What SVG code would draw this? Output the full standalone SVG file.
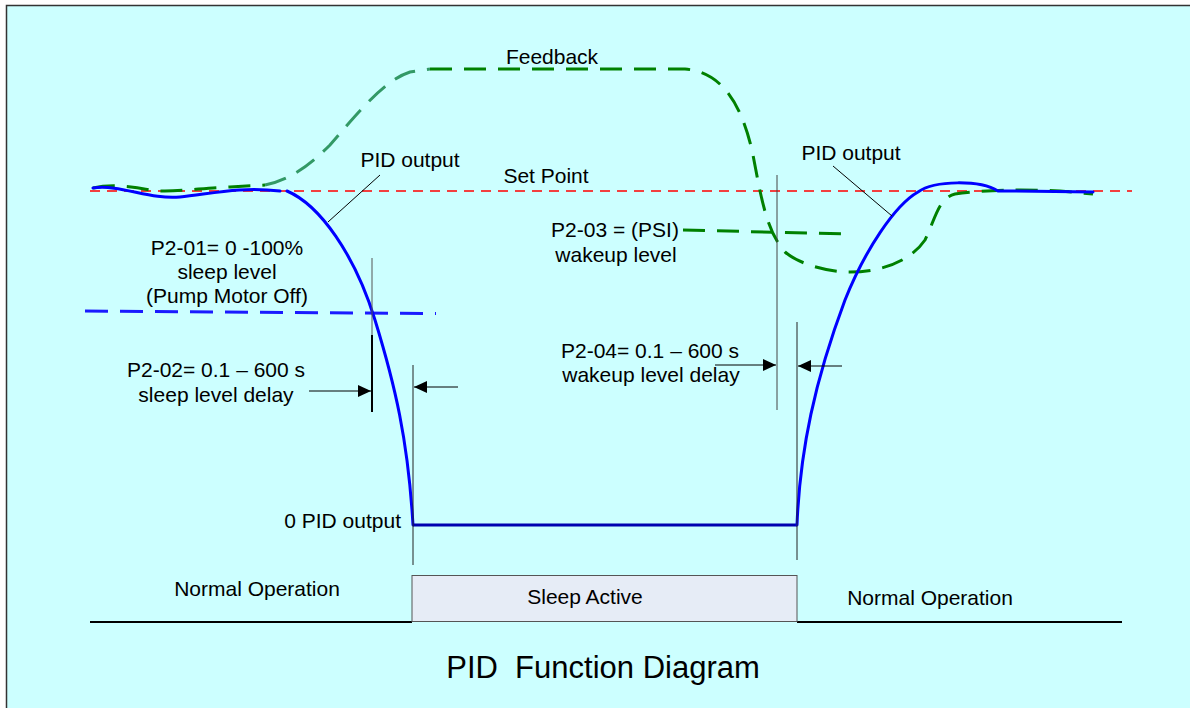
<svg xmlns="http://www.w3.org/2000/svg" width="1190" height="708" viewBox="0 0 1190 708">
<defs>
<style>
text{font-family:"Liberation Sans",Arial,sans-serif;font-size:21px;fill:#000}
.thin{stroke:#222;stroke-width:1;fill:none}
.arr{stroke:#000;stroke-width:1;fill:none}
.blue{stroke:#0000FF;stroke-width:3;fill:none;stroke-linecap:round}
.gdash{stroke:#008000;stroke-width:3;fill:none;stroke-dasharray:22 12}
.sgdash{stroke:#339966;stroke-width:3;fill:none;stroke-dasharray:22 12}
</style>
<marker id="ah" markerWidth="14" markerHeight="12" refX="13" refY="6" orient="auto" markerUnits="userSpaceOnUse">
<path d="M0,0 L13,6 L0,12 Z" fill="#000"/>
</marker>
</defs>
<rect x="0" y="0" width="1190" height="708" fill="#fff"/>
<rect x="6.5" y="5.5" width="1300" height="800" fill="#CCFFFF" stroke="#333" stroke-width="1.5"/>

<g id="setpoint">
<line x1="90" y1="191" x2="1132" y2="191" stroke="#FF0000" stroke-width="1.5" stroke-dasharray="10 7"/>
</g>

<g id="sleep-level-line">
<line x1="85" y1="311" x2="436" y2="313.5" stroke="#1a1aff" stroke-width="3" stroke-dasharray="23 12"/>
</g>

<g id="feedback">
<path class="gdash" d="M93,188 C110,184 130,186 150,190 C170,193 200,188 230,187 L265,185"/>
<path class="sgdash" d="M265,185 C290,180 310,165 330,145 C360,110 385,80 410,72 L430,69"/>
<path class="gdash" d="M430,69 L685,69 C720,72 740,100 752,150 C760,190 765,230 785,252 C800,265 830,272 850,272 C880,272 910,262 925,240 C935,220 938,198 955,194 C980,190 1020,189 1060,191 L1093,194"/>
<path class="gdash" d="M683,230 L850,234"/>
</g>

<g id="pid-output">
<path class="blue" d="M93,188 C120,184 150,200 180,197 C210,194 240,186 280,191"/>
<path class="blue" d="M287,191 C320,205 355,255 375,320 S408,440 413,525"/>
<line x1="413" y1="525" x2="797" y2="525" stroke="#0000B0" stroke-width="3"/>
<path class="blue" d="M797,525 C800,450 815,380 845,300 C865,250 895,205 918,192 C935,180 980,180 998,191 L1010,191 L1093,192"/>
</g>

<g id="connectors">
<line class="arr" x1="380" y1="175" x2="328" y2="222"/>
<line class="arr" x1="833" y1="166" x2="892" y2="216"/>
<line x1="372" y1="258" x2="372" y2="335" stroke="#555" stroke-width="1"/>
<line x1="372" y1="335" x2="372" y2="412" stroke="#000" stroke-width="2"/>
<line class="thin" x1="413" y1="365" x2="413" y2="565"/>
<line x1="777" y1="175" x2="777" y2="410" stroke="#444" stroke-width="1"/>
<line class="thin" x1="797" y1="322" x2="797" y2="560"/>
<line class="arr" x1="309" y1="391" x2="371" y2="391" marker-end="url(#ah)"/>
<line class="arr" x1="458" y1="387" x2="414" y2="387" marker-end="url(#ah)"/>
<line class="arr" x1="715" y1="365" x2="776" y2="365" marker-end="url(#ah)"/>
<line class="arr" x1="842" y1="366" x2="798" y2="366" marker-end="url(#ah)"/>
<line x1="90" y1="622" x2="412" y2="622" stroke="#000" stroke-width="2"/>
<line x1="797" y1="622" x2="1122" y2="622" stroke="#000" stroke-width="2"/>
</g>

<g id="sleep-active">
<rect x="412" y="575.5" width="385" height="46" fill="#E6ECF6" stroke="#555" stroke-width="1"/>
<text x="585" y="604" text-anchor="middle">Sleep Active</text>
</g>

<g id="labels">
<text x="552" y="64" text-anchor="middle">Feedback</text>
<text x="546" y="183" text-anchor="middle">Set Point</text>
<text x="410" y="167" text-anchor="middle">PID output</text>
<text x="851" y="160" text-anchor="middle">PID output</text>
<text x="227" y="255" text-anchor="middle">P2-01= 0 -100%</text>
<text x="227" y="279" text-anchor="middle">sleep level</text>
<text x="227" y="303" text-anchor="middle">(Pump Motor Off)</text>
<text x="216" y="377" text-anchor="middle">P2-02= 0.1 – 600 s</text>
<text x="216" y="402" text-anchor="middle">sleep level delay</text>
<text x="615" y="237" text-anchor="middle">P2-03 = (PSI)</text>
<text x="616" y="262" text-anchor="middle">wakeup level</text>
<text x="650" y="358" text-anchor="middle">P2-04= 0.1 – 600 s</text>
<text x="651" y="382" text-anchor="middle">wakeup level delay</text>
<text x="401" y="528" text-anchor="end">0 PID output</text>
<text x="257" y="596" text-anchor="middle">Normal Operation</text>
<text x="930" y="605" text-anchor="middle">Normal Operation</text>
<text x="603" y="678" text-anchor="middle" style="font-size:31px" xml:space="preserve">PID  Function Diagram</text>
</g>
</svg>
